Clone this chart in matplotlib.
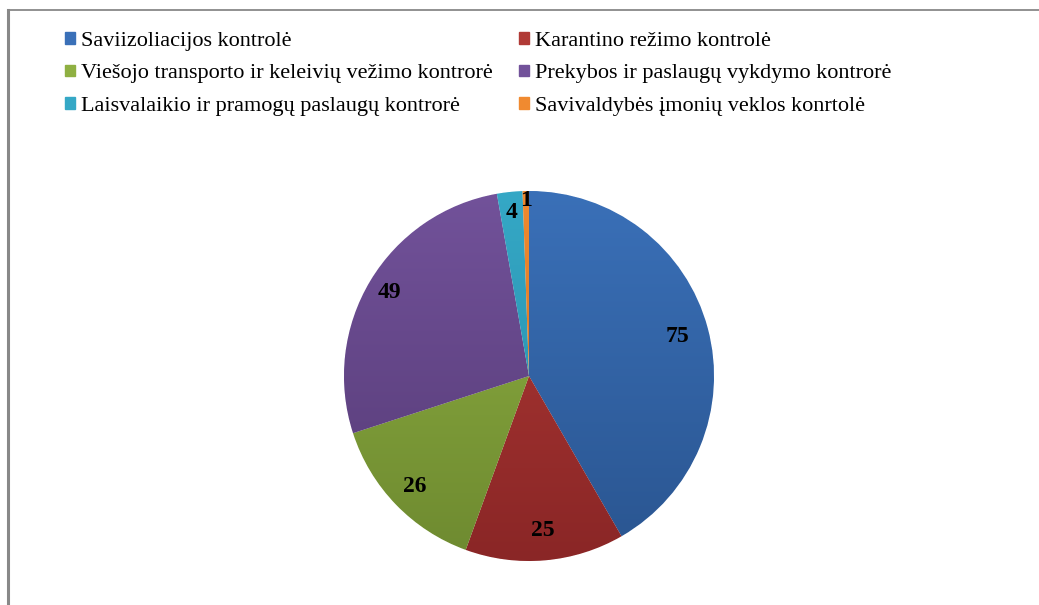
import numpy as np
import matplotlib.pyplot as plt
from matplotlib.patches import Patch
from matplotlib.lines import Line2D
from matplotlib.colors import LinearSegmentedColormap

plt.rcParams['font.family'] = ['Liberation Serif', 'DejaVu Serif']

# duomenys
categories = [
    'Saviizoliacijos kontrolė',
    'Karantino režimo kontrolė',
    'Viešojo transporto ir keleivių vežimo kontrorė',
    'Prekybos ir paslaugų vykdymo kontrorė',
    'Laisvalaikio ir pramogų paslaugų kontrorė',
    'Savivaldybės įmonių veklos konrtolė',
]
values = [75, 25, 26, 49, 4, 1]
colors_top = ['#3a70b8', '#b03a36', '#8fb042', '#72529a', '#35a8c6', '#f08a30']
colors_bot = ['#2a5590', '#8a2626', '#6e8a30', '#553a75', '#268aa5', '#d06e1a']
label_dist = [0.83, 0.84, 0.86, 0.88, 0.89, 0.95]

fig = plt.figure(figsize=(10.39, 6.05), dpi=100)

# ramelis (kaip Excel diagramos kraštas)
fig.add_artist(Line2D([0.0077, 0.0077], [0.0, 0.983], color='#888888', lw=2.2))
fig.add_artist(Line2D([0.0077, 1.0], [0.983, 0.983], color='#888888', lw=1.3))

# pyragas
ax = fig.add_axes([(529 - 190) / 1039, (605 - 376 - 190) / 605, 380 / 1039, 380 / 605])
wedges, texts = ax.pie(values, startangle=90, counterclock=False, radius=1,
                       colors=colors_top, labels=[str(v) for v in values],
                       labeldistance=0.85,
                       wedgeprops=dict(linewidth=0.6, edgecolor='white'),
                       textprops=dict(fontsize=17, fontweight='bold', color='black'))

# vertikalus gradientas kiekvienam sektoriui
grad = np.linspace(0, 1, 256).reshape(-1, 1)
for w, ct, cb in zip(wedges, colors_top, colors_bot):
    cmap = LinearSegmentedColormap.from_list('g', [cb, ct])
    im = ax.imshow(grad, cmap=cmap, extent=[-1, 1, -1, 1], origin='lower',
                   aspect='auto', zorder=w.get_zorder() + 0.1)
    im.set_clip_path(w)

# etikečių atstumai nuo centro
for w, t, d in zip(wedges, texts, label_dist):
    ang = np.deg2rad((w.theta1 + w.theta2) / 2)
    t.set_position((d * np.cos(ang), d * np.sin(ang)))
    t.set_ha('center')
    t.set_va('center')
    t.set_zorder(5)

ax.set_xlim(-190 / 185, 190 / 185)
ax.set_ylim(-190 / 185, 190 / 185)
ax.set_aspect('equal')
ax.axis('off')

# legenda eilutėmis
handles = [Patch(facecolor=c, edgecolor=c) for c in colors_top]
order = [0, 2, 4, 1, 3, 5]
leg = fig.legend([handles[i] for i in order], [categories[i] for i in order],
                 ncol=2, loc='upper left', bbox_to_anchor=(0.0435, 0.98),
                 frameon=False, fontsize=16, handlelength=0.45, handleheight=0.45,
                 handletextpad=0.25, columnspacing=1.2, labelspacing=0.6)

fig.savefig('out.png', dpi=100)
